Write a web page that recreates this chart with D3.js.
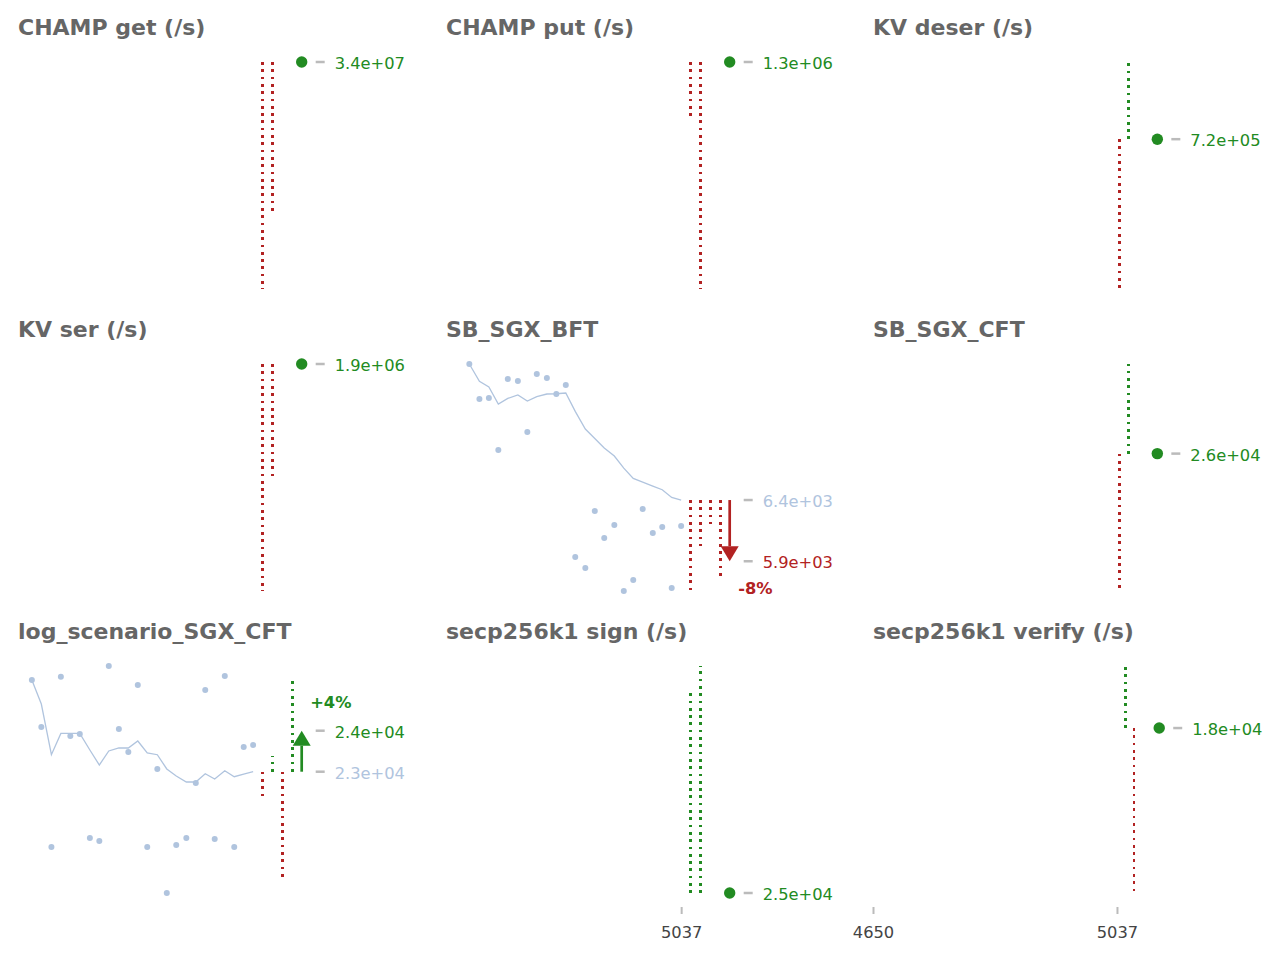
<!DOCTYPE html>
<html><head><meta charset="utf-8">
<script src="https://cdn.jsdelivr.net/npm/d3@7"></script>
<style>
body{margin:0;background:#fff}
svg{display:block}
text{font-family:"DejaVu Sans",sans-serif}
</style>
</head><body><svg id="c" width="1280" height="960"></svg>
<script>
// ---------------- data ----------------
const panelTitles = ["CHAMP get (/s)", "CHAMP put (/s)", "KV deser (/s)",
  "KV ser (/s)", "SB_SGX_BFT", "SB_SGX_CFT",
  "log_scenario_SGX_CFT", "secp256k1 sign (/s)", "secp256k1 verify (/s)"];

// build numbers of the historical runs
const builds = [4686, 4701, 4717, 4732, 4747, 4762, 4778, 4793, 4808, 4824, 4839, 4854,
  4869, 4885, 4900, 4915, 4931, 4946, 4961, 4976, 4992, 5007, 5022, 5037];

// SB_SGX_BFT history (builds 4701..5037)
const bftValues = [7531, 7245, 7253, 6829, 7409, 7392, 6976, 7449, 7417, 7286, 7360, 5954,
  5864, 6330, 6110, 6216, 5677, 5766, 6346, 6150, 6199, 5701, 6208];
const bftTrend = [7531, 7389, 7343, 7204, 7250, 7278, 7229, 7264, 7286, 7288, 7294, 7144,
  7000, 6923, 6845, 6779, 6681, 6596, 6567, 6534, 6504, 6441, 6420];

// log_scenario_SGX_CFT history (builds 4686..5037)
const logValues = [25058, 24003, 21310, 25132, 23801, 23846, 21512, 21445, 25372, 23958, 23442, 24946,
  21310, 23061, 20278, 21355, 21512, 22746, 24833, 21490, 25148, 21310, 23554, 23599];
const logTrend = [25058, 24519, 23381, 23859, 23859, 23859, 23487, 23150, 23465, 23532, 23532, 23689,
  23420, 23381, 23061, 22904, 22769, 22769, 22955, 22836, 23022, 22888, 22948, 23000];

// reference (baseline / current) value, result after change
const refValues = [3.42e7, 1.32e6, 7.195e5, 1.90e6, 6420, 2.60e4, 23000, 2.50e4, 1.798e4];
const resultValues = [null, null, null, null, 5920, null, 23920, null, null];

// new samples
const sampleValues = [[2.90e7, 3.074e7], [1.268e6, 1.10e6], [6.37e5, 7.62e5], [1.62e6, 1.759e6],
  [5681, 6041, 6224, 5802], [2.37e4, 2.75e4], [22417, 23359, 20599, 25064],
  [2.697e4, 2.72e4], [1.88e4, 1.58e4]];
const sampleBuilds = [[5052, 5068], [5052, 5068], [5041, 5055], [5052, 5068],
  [5052, 5068, 5083, 5099], [5041, 5055], [5052, 5068, 5083, 5099], [5052, 5068], [5050, 5064]];
const markBuilds = [5114, 5114, 5101, 5114, 5114, 5101, 5114, 5114, 5104];

const historyValues = [null, null, null, null, bftValues, null, logValues, null, null];
const trendValues = [null, null, null, null, bftTrend, null, logTrend, null, null];
const historyBuilds = [null, null, null, null, builds.slice(1), null, builds, null, null];

const colDomains = [[4664, 5124], [4664, 5124], [4650, 5110]];
const xTicks = [[], [5037], [4650, 5037]];

// ---------------- drawing ----------------
const svg = d3.select("#c");
const RED = "#b22222", GREEN = "#228b22", STEEL = "#b0c4de", DASH = "#bbbbbb";
const colLeft = [18, 446, 873];
const plotW = 290, plotH = 227, rowTop0 = 62, rowStep = 302;

const fmt = v => {
  const [m, e] = v.toExponential(1).split("e");
  return m + "e" + e[0] + e.slice(1).padStart(2, "0");
};
const pctFmt = (r, b) => {
  const p = Math.round((r / b - 1) * 100);
  return (p > 0 ? "+" : "") + p + "%";
};

panelTitles.forEach((title, i) => {
  const col = i % 3, row = Math.floor(i / 3);
  const top = rowTop0 + row * rowStep;
  const x = d3.scaleLinear().domain(colDomains[col]).range([colLeft[col], colLeft[col] + plotW]);
  const hist = historyValues[i], trend = trendValues[i];
  const ref = refValues[i], res = resultValues[i];
  const all = [ref, ...sampleValues[i]];
  if (res != null) all.push(res);
  if (hist) all.push(...hist);
  if (trend) all.push(...trend);
  const y = d3.scaleLinear().domain(d3.extent(all)).range([top + plotH, top]);
  const g = svg.append("g");

  g.append("text").attr("x", colLeft[col]).attr("y", top - 27.5)
    .attr("font-size", 22).attr("font-weight", "bold").attr("fill", "#666666").text(title);

  if (hist) {
    const hb = historyBuilds[i];
    g.append("path").datum(trend.map((v, k) => [hb[k], v]))
      .attr("fill", "none").attr("stroke", STEEL).attr("stroke-width", 1.3)
      .attr("d", d3.line().x(d => x(d[0])).y(d => y(d[1])));
    g.selectAll("circle.h").data(hist.map((v, k) => [hb[k], v])).join("circle")
      .attr("class", "h").attr("cx", d => x(d[0])).attr("cy", d => y(d[1]))
      .attr("r", 3).attr("fill", STEEL);
  }

  // dotted sample lines from reference
  g.selectAll("line.s").data(sampleValues[i].map((v, k) => [sampleBuilds[i][k], v])).join("line")
    .attr("class", "s")
    .attr("x1", d => x(d[0])).attr("x2", d => x(d[0]))
    .attr("y1", y(ref)).attr("y2", d => y(d[1]))
    .attr("stroke", d => d[1] < ref ? RED : GREEN)
    .attr("stroke-width", 2.7).attr("stroke-dasharray", "2.7 4.6")
    .attr("shape-rendering", "crispEdges");

  const mx = x(markBuilds[i]);
  const label = (val, color) => {
    g.append("line").attr("x1", mx + 14).attr("x2", mx + 23).attr("y1", y(val)).attr("y2", y(val))
      .attr("stroke", DASH).attr("stroke-width", 2.5);
    g.append("text").attr("x", mx + 33).attr("y", y(val)).attr("dy", "0.43em")
      .attr("font-size", 16.3).attr("fill", color).text(fmt(val));
  };

  if (res == null) {
    g.append("circle").attr("cx", mx).attr("cy", y(ref)).attr("r", 5.7).attr("fill", GREEN);
    label(ref, GREEN);
  } else {
    const up = res > ref;
    const c = up ? GREEN : RED;
    const headL = 15, headW = 9;
    const tipY = y(res), baseY = y(ref);
    const hb = up ? tipY + headL : tipY - headL;
    g.append("line").attr("x1", mx).attr("x2", mx).attr("y1", baseY).attr("y2", hb)
      .attr("stroke", c).attr("stroke-width", 2.7);
    g.append("path").attr("d", `M${mx},${tipY}L${mx - headW},${hb}L${mx + headW},${hb}Z`).attr("fill", c);
    label(ref, STEEL);
    label(res, c);
    g.append("text").attr("x", mx + 8.5).attr("y", up ? tipY - 22.7 : tipY + 32.5)
      .attr("font-size", 16.3).attr("font-weight", "bold").attr("fill", c).text(pctFmt(res, ref));
  }

  if (row === 2) {
    const ax = g.append("g").attr("transform", `translate(0,${top + plotH + 14})`)
      .call(d3.axisBottom(x).tickValues(xTicks[col]).tickFormat(d3.format("d")).tickSize(7).tickPadding(12));
    ax.select(".domain").remove();
    ax.selectAll(".tick line").attr("stroke", DASH).attr("stroke-width", 2);
    ax.selectAll(".tick text").attr("fill", "#444444").attr("font-size", 16.3)
      .attr("font-family", "DejaVu Sans, sans-serif");
  }
});
</script>
</body></html>
